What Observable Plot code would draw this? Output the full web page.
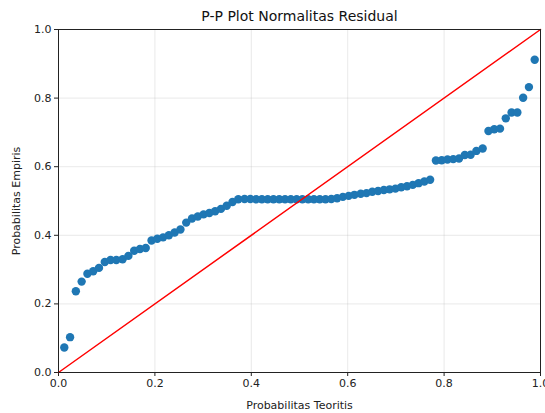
<!DOCTYPE html>
<html>
<head>
<meta charset="utf-8">
<script src="https://cdn.jsdelivr.net/npm/d3@7"></script>
<script src="https://cdn.jsdelivr.net/npm/@observablehq/plot@0.6"></script>
<style>
  html, body { margin: 0; padding: 0; background: white; }
  #chart { width: 545px; height: 413px; }
</style>
</head>
<body>
<div id="chart"></div>
<script>
const title = "P-P Plot Normalitas Residual";
const xLabel = "Probabilitas Teoritis";
const yLabel = "Probabilitas Empiris";

// Theoretical probabilities
const theoretical = [
  0.012, 0.024, 0.036, 0.048, 0.060, 0.072, 0.084, 0.096, 0.108, 0.120,
  0.133, 0.145, 0.157, 0.169, 0.181, 0.193, 0.205, 0.217, 0.229, 0.241,
  0.253, 0.265, 0.277, 0.289, 0.301, 0.313, 0.325, 0.337, 0.349, 0.361,
  0.373, 0.386, 0.398, 0.410, 0.422, 0.434, 0.446, 0.458, 0.470, 0.482,
  0.494, 0.506, 0.518, 0.530, 0.542, 0.554, 0.566, 0.578, 0.590, 0.602,
  0.614, 0.627, 0.639, 0.651, 0.663, 0.675, 0.687, 0.699, 0.711, 0.723,
  0.735, 0.747, 0.759, 0.771, 0.783, 0.795, 0.807, 0.819, 0.831, 0.843,
  0.855, 0.867, 0.880, 0.892, 0.904, 0.916, 0.928, 0.940, 0.952, 0.964,
  0.976, 0.988
];

const empirical = [
  0.073, 0.103, 0.237, 0.265, 0.288, 0.295, 0.305, 0.322, 0.328, 0.328,
  0.330, 0.340, 0.355, 0.360, 0.363, 0.385, 0.390, 0.394, 0.400, 0.408,
  0.417, 0.437, 0.449, 0.455, 0.461, 0.465, 0.470, 0.477, 0.486, 0.497,
  0.505, 0.506, 0.506, 0.505, 0.505, 0.505, 0.505, 0.505, 0.505, 0.505,
  0.505, 0.505, 0.505, 0.505, 0.505, 0.505, 0.506, 0.508, 0.512, 0.515,
  0.518, 0.521, 0.523, 0.527, 0.529, 0.532, 0.534, 0.536, 0.540, 0.543,
  0.547, 0.552, 0.557, 0.562, 0.618, 0.619, 0.621, 0.622, 0.624, 0.634,
  0.635, 0.646, 0.653, 0.704, 0.709, 0.711, 0.741, 0.758, 0.758, 0.801,
  0.832, 0.912
];

const refLineX = [0, 1];
const refLineY = [0, 1];
const tickValues = [0, 0.2, 0.4, 0.6, 0.8, 1.0];

const points = theoretical.map((x, i) => ({x, y: empirical[i]}));
const refLine = refLineX.map((x, i) => ({x, y: refLineY[i]}));

const chart = Plot.plot({
  width: 545,
  height: 413,
  marginLeft: 58,
  marginRight: 5,
  marginTop: 29,
  marginBottom: 41,
  style: {fontFamily: "DejaVu Sans, sans-serif", fontSize: "11px", background: "white", color: "#222"},
  x: {domain: [0, 1]},
  y: {domain: [0, 1]},
  marks: [
    Plot.gridX(tickValues, {stroke: "#b0b0b0", strokeOpacity: 0.35, strokeWidth: 0.8}),
    Plot.gridY(tickValues, {stroke: "#b0b0b0", strokeOpacity: 0.35, strokeWidth: 0.8}),
    Plot.axisX({ticks: tickValues, tickFormat: d3.format(".1f"), tickSize: 4, tickPadding: 3,
      label: xLabel, labelAnchor: "center", labelOffset: 36, labelArrow: "none", fontSize: 11}),
    Plot.axisY({ticks: tickValues, tickFormat: d3.format(".1f"), tickSize: 4, tickPadding: 3,
      label: yLabel, labelAnchor: "center", labelOffset: 46, labelArrow: "none", fontSize: 11}),
    Plot.dot(points, {x: "x", y: "y", r: 4.2, fill: "#1f77b4", stroke: "none"}),
    Plot.line(refLine, {x: "x", y: "y", stroke: "red", strokeWidth: 1.5}),
    Plot.frame({stroke: "#222", strokeWidth: 1}),
    Plot.text([title], {frameAnchor: "top", dy: -13, fontSize: 14, fill: "#111", lineAnchor: "middle"})
  ]
});
document.getElementById("chart").appendChild(chart);
</script>
</body>
</html>
